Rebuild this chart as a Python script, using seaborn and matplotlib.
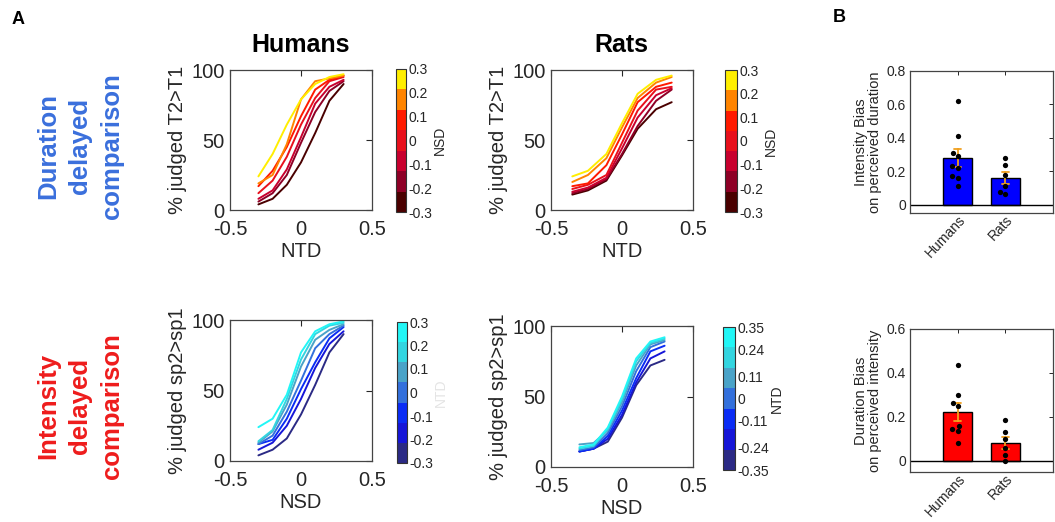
import numpy as np
import pandas as pd
import matplotlib
matplotlib.use("Agg")
import matplotlib.pyplot as plt
from matplotlib.colors import ListedColormap, Normalize
from matplotlib.cm import ScalarMappable
import seaborn as sns

# ---------------- data ----------------
# duration task: x = normalised time difference, curves = NSD levels
hum_ntd = [-0.3, -0.2, -0.1, 0.0, 0.1, 0.2, 0.3]
hum_nsd_levels = [-0.3, -0.2, -0.1, 0.0, 0.1, 0.2, 0.3]
hum_dur_m03 = [4, 8, 18, 34, 55, 78, 90]
hum_dur_m02 = [6, 12, 25, 48, 70, 85, 92]
hum_dur_m01 = [8, 14, 29, 52, 76, 88, 93]
hum_dur_000 = [12, 21, 38, 61, 80, 92, 95]
hum_dur_p01 = [17, 28, 45, 67, 86, 93, 96]
hum_dur_p02 = [19, 25, 47, 79, 92, 94, 96]
hum_dur_p03 = [24, 40, 61, 79, 90, 95, 97]

rat_ntd = [-0.35, -0.24, -0.11, 0.0, 0.11, 0.24, 0.35]
rat_nsd_levels = [-0.3, -0.2, -0.1, 0.0, 0.1, 0.2, 0.3]
rat_dur_m03 = [11, 14, 21, 39, 58, 72, 77]
rat_dur_m02 = [12, 15, 22, 40, 60, 78, 86]
rat_dur_m01 = [13, 16, 23, 44, 66, 82, 87]
rat_dur_000 = [15, 18, 25, 48, 71, 86, 88]
rat_dur_p01 = [17, 19, 32, 54, 77, 88, 91]
rat_dur_p02 = [20, 25, 37, 59, 80, 91, 95]
rat_dur_p03 = [24, 28, 40, 62, 83, 93, 96]

# intensity task: x = normalised speed difference, curves = NTD levels
hum_nsd = [-0.3, -0.2, -0.1, 0.0, 0.1, 0.2, 0.3]
hum_ntd_levels = [-0.3, -0.2, -0.1, 0.0, 0.1, 0.2, 0.3]
hum_int_m03 = [4, 8, 16, 33, 54, 77, 90]
hum_int_m02 = [8, 13, 25, 44, 66, 83, 92]
hum_int_m01 = [12, 15, 30, 51, 70, 87, 95]
hum_int_000 = [12, 18, 35, 57, 80, 90, 96]
hum_int_p01 = [13, 21, 40, 67, 86, 93, 97]
hum_int_p02 = [14, 22, 44, 72, 90, 96, 98]
hum_int_p03 = [24, 30, 47, 77, 92, 97, 99]

rat_nsd = [-0.3, -0.2, -0.1, 0.0, 0.1, 0.2, 0.3]
rat_ntd_levels = [-0.35, -0.24, -0.11, 0.0, 0.11, 0.24, 0.35]
rat_int_m035 = [11, 13, 18, 35, 58, 72, 76]
rat_int_m024 = [11, 13, 20, 37, 60, 77, 82]
rat_int_m011 = [11, 13, 22, 40, 63, 82, 86]
rat_int_000 = [12, 14, 24, 43, 68, 85, 89]
rat_int_p011 = [16, 17, 26, 46, 72, 87, 90]
rat_int_p024 = [13, 15, 27, 48, 75, 88, 91]
rat_int_p035 = [14, 16, 28, 50, 77, 89, 92]

# per-subject bias estimates
groups = ["Humans", "Rats"]
int_bias_humans = [0.62, 0.41, 0.31, 0.29, 0.23, 0.22, 0.17, 0.16, 0.11]
int_bias_rats = [0.28, 0.235, 0.175, 0.11, 0.075, 0.065]
dur_bias_humans = [0.435, 0.30, 0.265, 0.25, 0.16, 0.145, 0.137, 0.083]
dur_bias_rats = [0.185, 0.13, 0.10, 0.057, 0.027, 0.0]

warm_colors = ['#4a0000', '#8e0026', '#c8002e', '#e8101c', '#ff1a00', '#ff8400', '#ffee00']
cool_colors = ['#2b2a85', '#1616d8', '#0a2cf5', '#3370dc', '#4aa3c8', '#33d5e0', '#22f6f6']

# ---------------- style ----------------
sns.set_theme(style="white")
plt.rcParams['font.family'] = ['Liberation Sans', 'DejaVu Sans']
plt.rcParams['text.color'] = '#262626'
plt.rcParams['axes.labelcolor'] = '#262626'
plt.rcParams['xtick.color'] = '#262626'
plt.rcParams['ytick.color'] = '#262626'

W, H = 1055, 522
fig = plt.figure(figsize=(W / 100, H / 100), dpi=100)


def box(l, t, r, b):
    return [l / W, 1 - b / H, (r - l) / W, (b - t) / H]


def long_frame(xs, levels, rows):
    recs = []
    for lev, row in zip(levels, rows):
        for x, y in zip(xs, row):
            recs.append({"x": x, "level": lev, "pct": y})
    return pd.DataFrame(recs)


def psych_panel(rect, xs, levels, rows, colors, xlabel, ylabel):
    ax = fig.add_axes(box(*rect))
    df = long_frame(xs, levels, rows)
    sns.lineplot(data=df, x="x", y="pct", hue="level",
                 palette=dict(zip(levels, colors)), legend=False,
                 linewidth=1.4, ax=ax)
    ax.set_xlim(-0.5, 0.5)
    ax.set_ylim(0, 100)
    ax.set_xticks([-0.5, 0, 0.5])
    ax.set_xticklabels(["-0.5", "0", "0.5"])
    ax.set_yticks([0, 50, 100])
    ax.tick_params(direction="in", top=True, right=True, length=4,
                   width=0.8, labelsize=14.5)
    ax.tick_params(axis="x", pad=7)
    ax.tick_params(axis="y", pad=4)
    ax.set_xlabel(xlabel, fontsize=14.5, labelpad=2)
    ax.set_ylabel(ylabel, fontsize=14.5, labelpad=3)
    for s in ax.spines.values():
        s.set_color('#444444')
        s.set_linewidth(0.9)
    return ax


def colorbar_panel(rect, colors, vmin, vmax, ticks, ticklabels, label, label_color='#262626'):
    cax = fig.add_axes(box(*rect))
    sm = ScalarMappable(norm=Normalize(vmin, vmax), cmap=ListedColormap(colors))
    cb = fig.colorbar(sm, cax=cax, ticks=ticks)
    cb.set_ticklabels(ticklabels)
    cb.outline.set_linewidth(0.8)
    cb.outline.set_edgecolor('#333333')
    cax.tick_params(direction="in", length=3, width=0.6, labelsize=10, pad=2)
    cb.set_label(label, fontsize=10, color=label_color, labelpad=0)
    return cb


# ---- panel A ----
psych_panel((230, 70, 372, 210), hum_ntd, hum_nsd_levels,
            [hum_dur_m03, hum_dur_m02, hum_dur_m01, hum_dur_000,
             hum_dur_p01, hum_dur_p02, hum_dur_p03],
            warm_colors, "NTD", "% judged T2>T1")
psych_panel((551, 70, 693, 210), rat_ntd, rat_nsd_levels,
            [rat_dur_m03, rat_dur_m02, rat_dur_m01, rat_dur_000,
             rat_dur_p01, rat_dur_p02, rat_dur_p03],
            warm_colors, "NTD", "% judged T2>T1")
psych_panel((230, 320, 372, 461), hum_nsd, hum_ntd_levels,
            [hum_int_m03, hum_int_m02, hum_int_m01, hum_int_000,
             hum_int_p01, hum_int_p02, hum_int_p03],
            cool_colors, "NSD", "% judged sp2>sp1")
psych_panel((551, 326, 693, 467), rat_nsd, rat_ntd_levels,
            [rat_int_m035, rat_int_m024, rat_int_m011, rat_int_000,
             rat_int_p011, rat_int_p024, rat_int_p035],
            cool_colors, "NSD", "% judged sp2>sp1")

lvl7 = [-0.3, -0.2, -0.1, 0, 0.1, 0.2, 0.3]
lab7 = ["-0.3", "-0.2", "-0.1", "0", "0.1", "0.2", "0.3"]
colorbar_panel((396, 69, 406, 212), warm_colors, -0.3, 0.3, lvl7, lab7, "NSD")
colorbar_panel((725, 70, 737, 212), warm_colors, -0.3, 0.3, lvl7, lab7, "NSD")
colorbar_panel((397, 322, 407, 463), cool_colors, -0.3, 0.3, lvl7, lab7, "NTD",
               label_color='#e4e4e4')
colorbar_panel((723, 327, 735, 470), cool_colors, -0.35, 0.35, rat_ntd_levels,
               ["-0.35", "-0.24", "-0.11", "0", "0.11", "0.24", "0.35"], "NTD")

fig.text(301 / W, 1 - 45 / H, "Humans", fontsize=18, fontweight="bold",
         ha="center", va="center", color="black")
fig.text(621 / W, 1 - 45 / H, "Rats", fontsize=18, fontweight="bold",
         ha="center", va="center", color="black")
fig.text(80 / W, 1 - 146 / H, "Duration\ndelayed\ncomparison", rotation=90,
         fontsize=18.5, fontweight="bold", color="#3a6fdc", ha="center",
         va="center", multialignment="center", linespacing=1.4)
fig.text(80 / W, 1 - 406 / H, "Intensity\ndelayed\ncomparison", rotation=90,
         fontsize=18.5, fontweight="bold", color="#ee1c1c", ha="center",
         va="center", multialignment="center", linespacing=1.4)
fig.text(18 / W, 1 - 20 / H, "A", fontsize=13, fontweight="bold",
         ha="center", va="center", color="black")
fig.text(839 / W, 1 - 18 / H, "B", fontsize=13, fontweight="bold",
         ha="center", va="center", color="black")


# ---- panel B ----
def bias_panel(rect, humans, rats, color, ymax, yticks, ylabel):
    ax = fig.add_axes(box(*rect))
    df = pd.DataFrame({
        "group": ["Humans"] * len(humans) + ["Rats"] * len(rats),
        "bias": list(humans) + list(rats),
    })
    sns.barplot(data=df, x="group", y="bias", order=groups, color=color,
                saturation=1, edgecolor="black", linewidth=1.0, width=0.6,
                errorbar="se", capsize=0.15,
                err_kws={"color": "#f0a020", "linewidth": 1.3}, ax=ax)
    sns.swarmplot(data=df, x="group", y="bias", order=groups, color="black",
                  size=3.8, ax=ax)
    ax.axhline(0, color="black", linewidth=1.0, zorder=1.5)
    ax.set_xlim(-1, 2)
    ax.set_ylim(-0.05, ymax)
    ax.set_yticks(yticks)
    ax.set_yticklabels(["0" if t == 0 else f"{t:.1f}" for t in yticks])
    ax.tick_params(direction="in", top=True, right=True, length=3,
                   width=0.7, labelsize=10, pad=3)
    ax.set_xticks([0, 1])
    ax.set_xticklabels(groups, rotation=47, ha="right", rotation_mode="anchor",
                       fontsize=10)
    ax.tick_params(axis="x", pad=0)
    ax.set_xlabel("")
    ax.set_ylabel(ylabel, fontsize=10.5, linespacing=1.05, labelpad=3)
    for s in ax.spines.values():
        s.set_color('#444444')
        s.set_linewidth(0.9)
    return ax


bias_panel((910, 71, 1053, 213), int_bias_humans, int_bias_rats, "#0000ff",
           0.8, [0, 0.2, 0.4, 0.6, 0.8],
           "Intensity Bias\non perceived duration")
bias_panel((910, 329, 1053, 472), dur_bias_humans, dur_bias_rats, "#ff0000",
           0.6, [0, 0.2, 0.4, 0.6],
           "Duration Bias\non perceived intensity")

fig.savefig("out.png", dpi=100, facecolor="white")
